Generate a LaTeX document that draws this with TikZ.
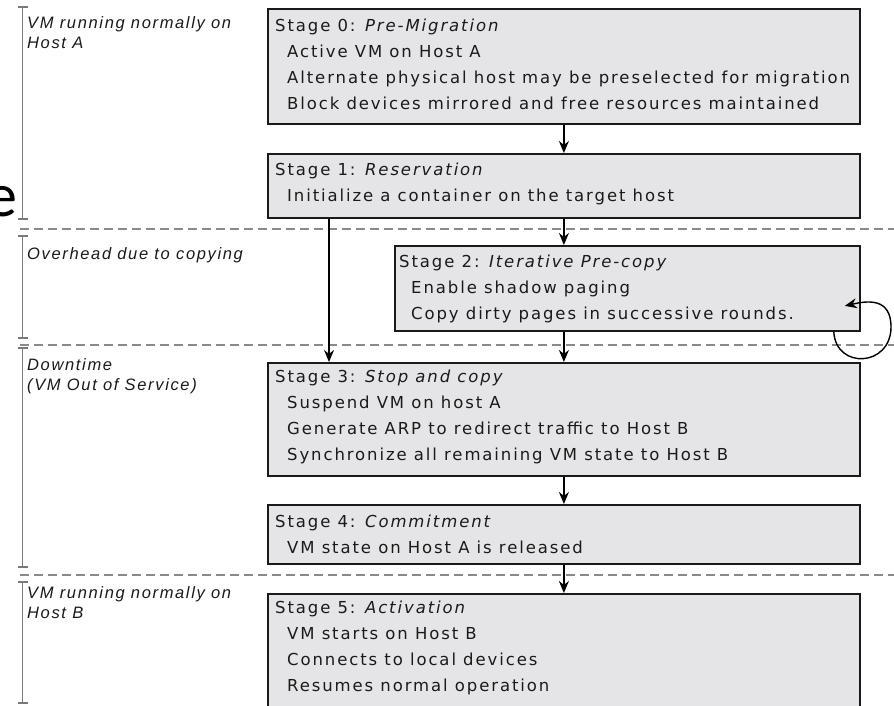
\documentclass[tikz,border=0pt]{standalone}
\usepackage{fontspec}
\usetikzlibrary{arrows.meta,calc}
\newfontfamily\boxfont[LetterSpace=11.5]{DejaVu Sans}
\newfontfamily\labfont[LetterSpace=10]{Liberation Sans}
\newfontfamily\bigfont{Carlito}
\definecolor{boxfill}{HTML}{E5E5E7}
\definecolor{boxline}{HTML}{1A1A1A}
\definecolor{sepgray}{HTML}{8A8A8A}
\definecolor{brgray}{HTML}{7A7A7A}
\definecolor{txt}{HTML}{1A1A1A}
\tikzset{
  stagebox/.style={draw=boxline, fill=boxfill, line width=1.8pt, inner sep=0pt, anchor=north west},
  stagetext/.style={anchor=west, align=left, inner sep=0pt, text=txt, font=\boxfont\fontsize{16.5}{26}\selectfont},
  lab/.style={anchor=west, align=left, inner sep=0pt, text=txt, font=\labfont\itshape\fontsize{16.5}{20}\selectfont},
  arr/.style={draw=black, line width=1.4pt, -{Stealth[length=12pt, width=10pt]}},
  sep/.style={draw=sepgray, line width=1.6pt, dash pattern=on 9pt off 5pt},
  bracketline/.style={draw=brgray, line width=1.5pt}
}
\newcommand{\ind}{\hspace*{12pt}}
\begin{document}
\begin{tikzpicture}[x=1pt,y=-1pt]
\clip (0,0) rectangle (894,705);
\useasboundingbox (0,0) rectangle (894,705);
\fill[white] (0,0) rectangle (894,705);

% partial big letter at left edge
\node[anchor=base east, inner sep=0pt, font=\bigfont\fontsize{62}{62}\selectfont] (bige) at (18,216) {e};

% separators
\coordinate (d1l) at (20,229); \coordinate (d1r) at (894,229);
\coordinate (d2l) at (20,345); \coordinate (d2r) at (894,345);
\coordinate (d3l) at (20,575); \coordinate (d3r) at (894,575);
\draw[sep] (d1l) -- (d1r);
\draw[sep] (d2l) -- (d2r);
\draw[sep] (d3l) -- (d3r);

% brackets
\foreach \a/\b in {7/219, 236/338, 348/567, 582/703}{
  \draw[bracketline] (22.5,\a) -- (22.5,\b);
  \draw[bracketline] (18,\a) -- (28,\a);
  \draw[bracketline] (18,\b) -- (28,\b);
}

% labels
\node[lab] (l1) at (27,33) {VM running normally on\\Host A};
\node[lab] (l2) at (27,255) {Overhead due to copying};
\node[lab] (l3) at (27,376) {Downtime\\(VM Out of Service)};
\node[lab] (l4) at (27,603) {VM running normally on\\Host B};

% boxes
\node[stagebox, minimum width=592pt, minimum height=115pt] (s0) at (267,8) {};
\node[stagebox, minimum width=592pt, minimum height=64pt] (s1) at (267,153) {};
\node[stagebox, minimum width=465pt, minimum height=85pt] (s2) at (394,245) {};
\node[stagebox, minimum width=592pt, minimum height=113pt] (s3) at (267,362) {};
\node[stagebox, minimum width=592pt, minimum height=59pt] (s4) at (267,504) {};
\node[stagebox, minimum width=592pt, minimum height=140pt] (s5) at (267,593) {};

% texts
\node[stagetext] (t0) at ($(s0.north west)+(8,56)$) {Stage 0: \itshape Pre-Migration\\\ind Active VM on Host A\\\ind Alternate physical host may be preselected for migration\\\ind Block devices mirrored and free resources maintained};
\node[stagetext] (t1) at ($(s1.north west)+(8,30.5)$) {Stage 1: \itshape Reservation\\\ind Initialize a container on the target host};
\node[stagetext] (t2) at ($(s2.north west)+(5,43.5)$) {Stage 2: \itshape Iterative Pre-copy\\\ind Enable shadow paging\\\ind Copy dirty pages in successive rounds.};
\node[stagetext] (t3) at ($(s3.north west)+(8,54.5)$) {Stage 3: \itshape Stop and copy\\\ind Suspend VM on host A\\\ind Generate ARP to redirect traffic to Host B\\\ind Synchronize all remaining VM state to Host B};
\node[stagetext] (t4) at ($(s4.north west)+(8,30.5)$) {Stage 4: \itshape Commitment\\\ind VM state on Host A is released};
\node[stagetext] (t5) at ($(s5.north west)+(8,55)$) {Stage 5: \itshape Activation\\\ind VM starts on Host B\\\ind Connects to local devices\\\ind Resumes normal operation};

% arrows
\draw[arr] (s0.south) -- (s1.north);
\draw[arr] (s1.south) -- (s1.south |- s2.north);
\draw[arr] (s2.south -| s3.north) -- (s3.north);
\draw[arr] ([xshift=62pt]s1.south west) -- ([xshift=62pt]s3.north west);
\draw[arr] (s3.south) -- (s4.north);
\draw[arr] (s4.south) -- (s5.north);

% self loop
\coordinate (loopa) at ($(s2.south east)+(-27,0)$);
\coordinate (loopr) at (891,327);
\coordinate (loope) at ($(s2.east)+(-16,17.5)$);
\draw[arr] (loopa) .. controls +(2,38) and +(0,40) .. (loopr) .. controls +(0,-30) and +(22,-5) .. (loope);
\end{tikzpicture}
\end{document}
